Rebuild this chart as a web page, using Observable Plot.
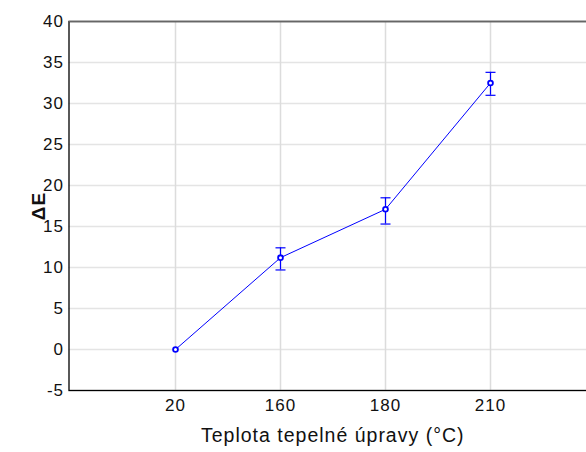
<!DOCTYPE html>
<html><head><meta charset="utf-8">
<script src="https://cdn.jsdelivr.net/npm/d3@7"></script>
<script src="https://cdn.jsdelivr.net/npm/@observablehq/plot@0.6"></script>
<style>body{margin:0;overflow:hidden;background:#fff}</style>
</head><body><div id="chart"></div>
<script>
const temps = ["20", "160", "180", "210"];
const deltaE = [0, 11.2, 17.1, 32.5];
const errLow = [0, 9.7, 15.3, 31.0];
const errHigh = [0, 12.4, 18.5, 33.8];
const yTicks = [-5, 0, 5, 10, 15, 20, 25, 30, 35, 40];
const xLabel = "Teplota tepelné úpravy (°C)";
const yLabel = "ΔE";

const data = temps.map((t, i) => ({t, v: deltaE[i], lo: errLow[i], hi: errHigh[i]}));
const errData = data.filter(d => d.hi > d.lo);
const capSymbol = {draw(ctx, size) { const w = Math.sqrt(size / Math.PI); ctx.moveTo(-w, 0); ctx.lineTo(w, 0); }};

const chart = Plot.plot({
  width: 586,
  height: 452,
  marginLeft: 68.5,
  marginRight: -10,
  marginTop: 21,
  marginBottom: 62,
  style: {fontFamily: "'Liberation Sans', Arial, sans-serif", fontSize: "17px", color: "#000", background: "#fff", overflow: "hidden"},
  x: {type: "point", domain: temps, padding: 1, label: null},
  y: {domain: [-5, 40], label: null},
  marks: [
    Plot.gridY(yTicks, {stroke: "#e4e4e4", strokeOpacity: 1, strokeWidth: 1.5}),
    Plot.gridX(temps, {stroke: "#dcdcdc", strokeOpacity: 1, strokeWidth: 1.5}),
    Plot.frame({stroke: "#000", strokeWidth: 1.3}),
    Plot.ruleY([40], {stroke: "#666", strokeWidth: 1.5}),
    Plot.axisY(yTicks, {tickSize: 0, tickPadding: 5, fontSize: 17, fill: "#111", tickFormat: d => String(d), label: null}),
    Plot.axisX(temps, {tickSize: 0, tickPadding: 8, fontSize: 17, fill: "#111", label: null}),
    Plot.ruleX(errData, {x: "t", y1: "lo", y2: "hi", stroke: "#0000ff", strokeWidth: 1.2}),
    Plot.dot(errData, {x: "t", y: "hi", symbol: capSymbol, r: 5, stroke: "#0000ff", strokeWidth: 1.2, fill: "none"}),
    Plot.dot(errData, {x: "t", y: "lo", symbol: capSymbol, r: 5, stroke: "#0000ff", strokeWidth: 1.2, fill: "none"}),
    Plot.line(data, {x: "t", y: "v", stroke: "#0000ff", strokeWidth: 1}),
    Plot.dot(data, {x: "t", y: "v", r: 2.4, stroke: "#0000ff", strokeWidth: 1.8, fill: "#fff"}),
    Plot.text([xLabel], {frameAnchor: "bottom", dy: 51, fontSize: 19.5, fill: "#111"}),
    Plot.text([yLabel], {frameAnchor: "left", textAnchor: "middle", dx: -30, rotate: -90, fontSize: 19, fontWeight: "bold", fill: "#111"})
  ]
});
const svg = d3.select(chart);
svg.selectAll("g[aria-label$='tick label'] text").attr("font-size", "17px");
svg.selectAll("text").attr("letter-spacing", "1px");
document.getElementById("chart").appendChild(chart);
</script>
</body></html>
